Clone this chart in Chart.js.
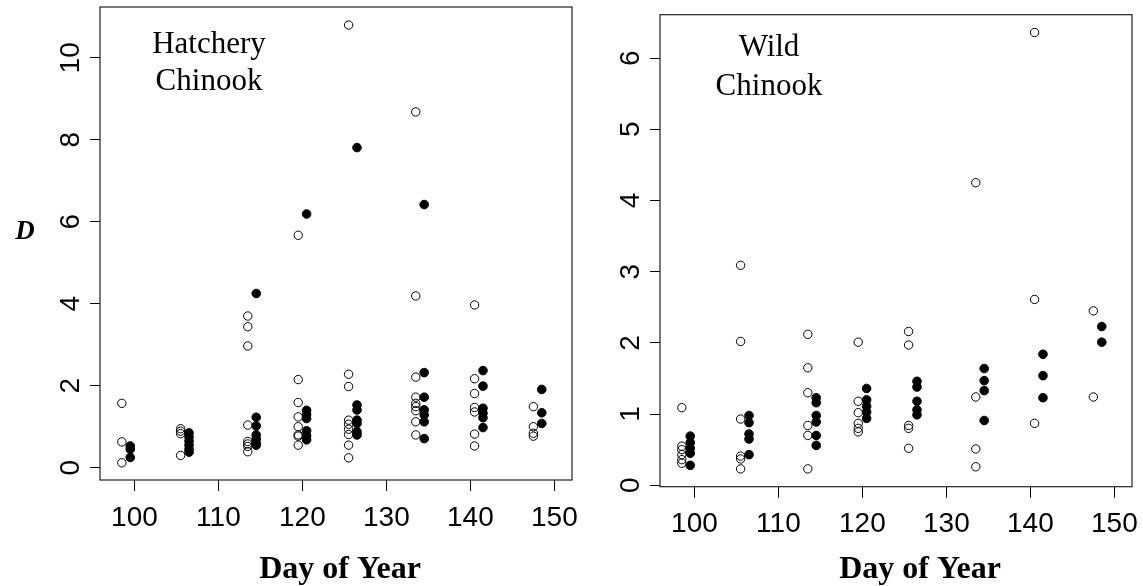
<!DOCTYPE html>
<html>
<head>
<meta charset="utf-8">
<script src="https://cdn.jsdelivr.net/npm/chart.js@4.4.0/dist/chart.umd.min.js"></script>
<style>
  html, body { margin: 0; padding: 0; background: #fff; }
  #wrap { position: relative; width: 1143px; height: 586px; }
  canvas { position: absolute; top: 0; }
  #hatchery { left: 0; }
  #wild { left: 590px; }
</style>
</head>
<body>
<div id="wrap">
  <canvas id="hatchery" width="590" height="586"></canvas>
  <canvas id="wild" width="553" height="586"></canvas>
</div>
<script>
// sampling days: open circles sit just left of each date, filled just right
const openDays = [98.5, 105.5, 113.5, 119.5, 125.5, 133.5, 140.5, 147.5];
const filledDays = [99.5, 106.5, 114.5, 120.5, 126.5, 134.5, 141.5, 148.5];

// Hatchery Chinook, D values per sampling day
const hatcheryOpen = [
  [1.57, 0.63, 0.12],
  [0.95, 0.89, 0.83, 0.30],
  [3.70, 3.44, 2.97, 1.04, 0.64, 0.58, 0.52, 0.39],
  [5.67, 2.15, 1.59, 1.24, 1.00, 0.80, 0.77, 0.55],
  [10.80, 2.28, 1.98, 1.16, 1.06, 0.94, 0.81, 0.55, 0.24],
  [8.68, 4.19, 2.21, 1.72, 1.57, 1.49, 1.39, 1.12, 0.80],
  [3.97, 2.17, 1.81, 1.47, 1.36, 0.82, 0.53],
  [1.49, 1.00, 0.84, 0.77]
];
const hatcheryFilled = [
  [0.53, 0.45, 0.25],
  [0.85, 0.75, 0.65, 0.55, 0.45, 0.38],
  [4.25, 1.23, 1.02, 0.80, 0.70, 0.60, 0.55],
  [6.19, 1.40, 1.30, 1.20, 0.90, 0.78, 0.68],
  [7.81, 1.53, 1.41, 1.16, 1.08, 0.88, 0.80],
  [6.42, 2.32, 1.72, 1.41, 1.29, 1.12, 0.71],
  [2.37, 1.99, 1.45, 1.33, 1.22, 0.98],
  [1.91, 1.34, 1.08]
];

// Wild Chinook
const wildOpen = [
  [1.09, 0.55, 0.50, 0.43, 0.36, 0.31],
  [3.09, 2.02, 0.93, 0.41, 0.37, 0.23],
  [2.12, 1.65, 1.30, 0.84, 0.70, 0.23],
  [2.01, 1.18, 1.02, 0.87, 0.80, 0.75],
  [2.16, 1.97, 0.84, 0.80, 0.52],
  [4.25, 1.24, 0.51, 0.26],
  [6.36, 2.61, 0.87],
  [2.45, 1.24]
];
const wildFilled = [
  [0.69, 0.60, 0.52, 0.45, 0.28],
  [0.98, 0.88, 0.72, 0.65, 0.43],
  [1.23, 1.16, 0.98, 0.89, 0.70, 0.56],
  [1.36, 1.20, 1.11, 1.03, 0.94],
  [1.46, 1.38, 1.18, 1.06, 0.99],
  [1.64, 1.47, 1.33, 0.91],
  [1.84, 1.54, 1.23],
  [2.23, 2.01]
];

const xTicks = [100, 110, 120, 130, 140, 150];
const hatcheryYTicks = [0, 2, 4, 6, 8, 10];
const wildYTicks = [0, 1, 2, 3, 4, 5, 6];

Chart.defaults.font.family = '"Liberation Sans", Arial, sans-serif';
Chart.defaults.color = '#000';

function toPoints(days, groups) {
  return groups.flatMap((vals, i) => vals.map(v => ({ x: days[i], y: v })));
}

// box around the plot region plus the serif labels R puts on it
function panelDecor(opts) {
  return {
    id: 'panelDecor',
    afterDraw(chart) {
      const { ctx, chartArea: a } = chart;
      ctx.save();
      ctx.strokeStyle = '#222';
      ctx.lineWidth = 1.2;
      ctx.strokeRect(a.left, a.top, a.right - a.left, a.bottom - a.top);
      ctx.fillStyle = '#000';
      ctx.textAlign = 'center';
      ctx.textBaseline = 'alphabetic';
      ctx.font = '31px "Liberation Serif"';
      opts.label.forEach((line, i) => ctx.fillText(line, opts.labelX, opts.labelY[i]));
      ctx.font = 'bold 32px "Liberation Serif"';
      ctx.fillText('Day of Year', opts.titleX, 578);
      if (opts.yTitle) {
        ctx.font = 'italic bold 27px "Liberation Serif"';
        ctx.fillText(opts.yTitle, 25, 239);
      }
      ctx.restore();
    }
  };
}

function makePanel(canvasId, p) {
  return new Chart(document.getElementById(canvasId), {
    type: 'scatter',
    data: {
      datasets: [
        {
          data: toPoints(openDays, p.open),
          pointRadius: 4.2,
          borderColor: '#000',
          borderWidth: 1,
          backgroundColor: 'rgba(0,0,0,0)'
        },
        {
          data: toPoints(filledDays, p.filled),
          pointRadius: 4.3,
          borderColor: '#000',
          borderWidth: 1,
          backgroundColor: '#000'
        }
      ]
    },
    options: {
      responsive: false,
      animation: false,
      layout: { padding: p.padding },
      plugins: { legend: { display: false }, tooltip: { enabled: false } },
      scales: {
        x: {
          type: 'linear',
          min: 95.9,
          max: 152.1,
          afterBuildTicks: s => { s.ticks = xTicks.map(v => ({ value: v })); },
          afterFit: s => {
            s.height = p.xHeight;
            s.paddingLeft = 0;
            s.paddingRight = 0;
          },
          border: { display: false },
          grid: { drawOnChartArea: false, tickLength: 11, tickColor: '#000', tickWidth: 1 },
          ticks: { font: { size: 28 }, padding: 10, maxRotation: 0, autoSkip: false }
        },
        y: {
          type: 'linear',
          min: p.yMin,
          max: p.yMax,
          afterBuildTicks: s => { s.ticks = p.yTicks.map(v => ({ value: v })); },
          afterFit: s => {
            s.width = p.yWidth;
            s.paddingTop = 0;
            s.paddingBottom = 0;
          },
          border: { display: false },
          grid: { drawOnChartArea: false, tickLength: 10, tickColor: '#000', tickWidth: 1 },
          ticks: {
            font: { size: 28 },
            padding: p.yPad,
            minRotation: 90,
            maxRotation: 90,
            crossAlign: 'center',
            autoSkip: false
          }
        }
      }
    },
    plugins: [panelDecor(p.decor)]
  });
}

makePanel('hatchery', {
  open: hatcheryOpen,
  filled: hatcheryFilled,
  yTicks: hatcheryYTicks,
  yMin: -0.30,
  yMax: 11.24,
  padding: { left: 0, top: 7, right: 18, bottom: 0 },
  xHeight: 106,
  yWidth: 100,
  yPad: 2.7,
  decor: { label: ['Hatchery', 'Chinook'], labelX: 209, labelY: [53, 90], titleX: 340, yTitle: 'D' }
});

makePanel('wild', {
  open: wildOpen,
  filled: wildFilled,
  yTicks: wildYTicks,
  yMin: -0.02,
  yMax: 6.61,
  padding: { left: 0, top: 14.7, right: 11, bottom: 0 },
  xHeight: 99.3,
  yWidth: 70,
  yPad: 10.5,
  decor: { label: ['Wild', 'Chinook'], labelX: 179, labelY: [56, 95], titleX: 330 }
});
</script>
</body>
</html>
